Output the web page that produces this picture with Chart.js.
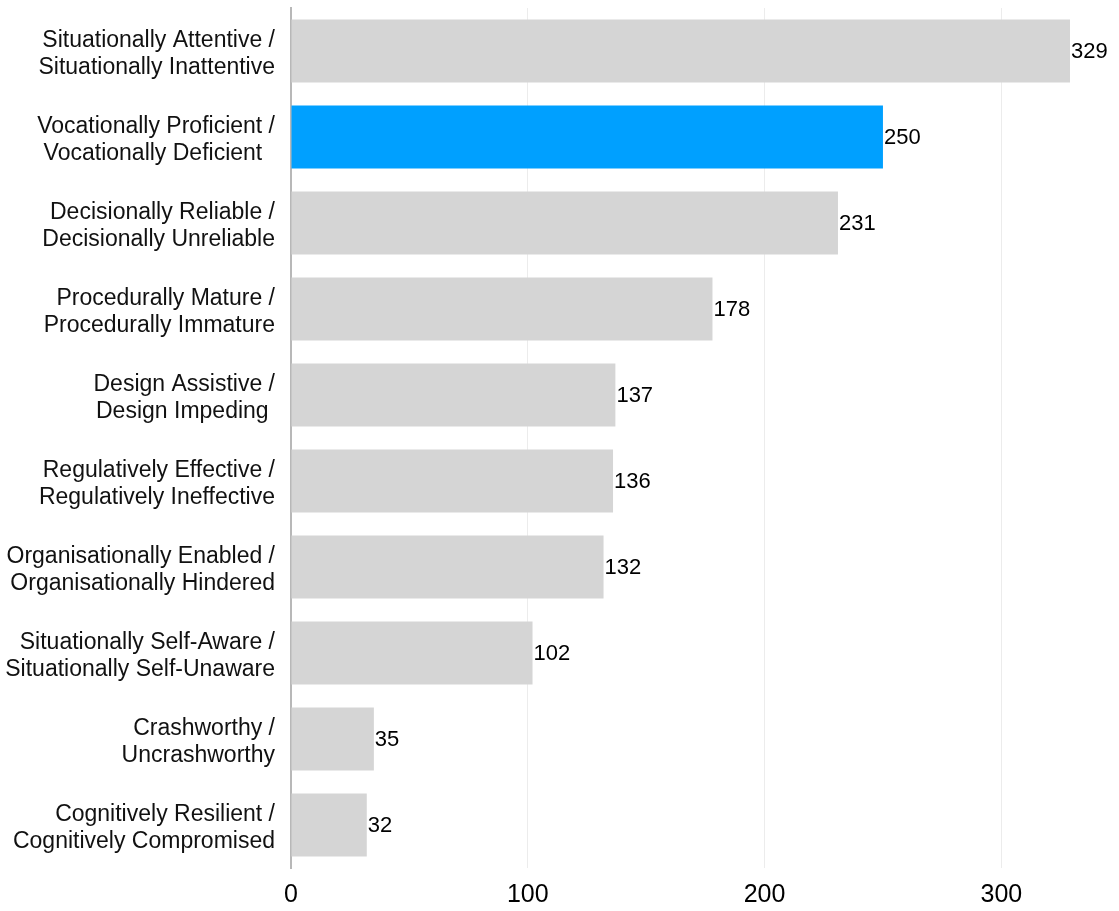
<!DOCTYPE html>
<html lang="en">
<head>
<meta charset="UTF-8">
<title>Attribute counts</title>
<script src="https://cdn.jsdelivr.net/npm/chart.js"></script>
<style>
    body { margin: 0; background: #fff; }
    #wrap { width: 1119px; height: 911px; }
</style>
</head>
<body>
<div id="wrap"><canvas id="barChart" width="1119" height="911"></canvas></div>
<script>
const categories = [
    ["Situationally Attentive /", "Situationally Inattentive"],
    ["Vocationally Proficient /", "Vocationally Deficient  "],
    ["Decisionally Reliable /", "Decisionally Unreliable"],
    ["Procedurally Mature /", "Procedurally Immature"],
    ["Design Assistive /", "Design Impeding "],
    ["Regulatively Effective /", "Regulatively Ineffective"],
    ["Organisationally Enabled /", "Organisationally Hindered"],
    ["Situationally Self-Aware /", "Situationally Self-Unaware"],
    ["Crashworthy /", "Uncrashworthy"],
    ["Cognitively Resilient /", "Cognitively Compromised"]
];
const counts = [329, 250, 231, 178, 137, 136, 132, 102, 35, 32];
const highlightIndex = 1;
const xTicks = [0, 100, 200, 300];

const barColors = counts.map((v, i) => i === highlightIndex ? '#00a0ff' : '#d5d5d5');

// write the value just past the end of each bar
const valueLabels = {
    id: 'valueLabels',
    afterDatasetsDraw(chart) {
        const ctx = chart.ctx;
        const meta = chart.getDatasetMeta(0);
        ctx.save();
        ctx.font = '22px "Liberation Sans", Arial, sans-serif';
        ctx.fillStyle = '#000';
        ctx.textAlign = 'left';
        ctx.textBaseline = 'middle';
        meta.data.forEach((bar, i) => {
            ctx.fillText(String(counts[i]), bar.x + 1, bar.y + 1);
        });
        ctx.restore();
    }
};

new Chart(document.getElementById('barChart'), {
    type: 'bar',
    data: {
        labels: categories,
        datasets: [{
            data: counts,
            backgroundColor: barColors,
            borderWidth: 0,
            categoryPercentage: 1,
            barPercentage: 0.73
        }]
    },
    options: {
        indexAxis: 'y',
        responsive: false,
        animation: false,
        layout: { padding: { top: 8, right: 4, left: 0, bottom: 0 } },
        plugins: {
            legend: { display: false },
            tooltip: { enabled: false }
        },
        scales: {
            x: {
                min: 0,
                max: 348,
                afterBuildTicks: axis => { axis.ticks = xTicks.map(v => ({ value: v })); },
                grid: { color: '#ececec', drawTicks: false },
                border: { display: false },
                ticks: {
                    color: '#000',
                    padding: 12,
                    font: { size: 25, family: '"Liberation Sans", Arial, sans-serif' }
                },
                afterFit: scale => {
                    scale.height = 43;
                    scale.paddingLeft = 0;
                    scale.paddingRight = 0;
                }
            },
            y: {
                grid: { display: false, drawTicks: false },
                border: { display: true, color: '#b8b8b8', width: 2 },
                ticks: {
                    color: '#111',
                    padding: 16,
                    labelOffset: 3,
                    font: { size: 23, lineHeight: 1.18, family: '"Liberation Sans", Arial, sans-serif' }
                },
                afterFit: scale => {
                    scale.width = 291;
                    scale.paddingTop = 0;
                    scale.paddingBottom = 0;
                }
            }
        }
    },
    plugins: [valueLabels]
});
</script>
</body>
</html>
